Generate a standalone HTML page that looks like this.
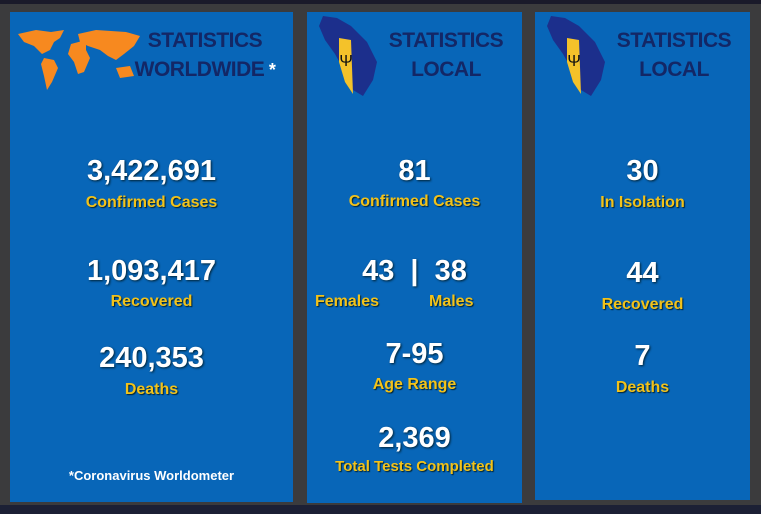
<!DOCTYPE html>
<html><head><style>
body{margin:0;width:761px;height:514px;background:#3b3b3d;position:relative;overflow:hidden;font-family:"Liberation Sans",sans-serif}
.top{position:absolute;left:0;top:0;width:761px;height:4px;background:#1a1a2a}
.bot{position:absolute;left:0;top:505px;width:761px;height:9px;background:#1c2035}
.p{position:absolute;background:#0866b8}
.t{position:absolute;width:100%;text-align:center;font-weight:bold}
.n{color:#fff;font-size:29px;text-shadow:1px 1px 2px #023}
.l{color:#f2c21a;font-size:16px;text-shadow:1px 1px 1px #023}
.h{position:absolute;color:#132766;font-weight:bold;font-size:21px;text-align:center;line-height:29px;letter-spacing:-0.5px}
</style></head><body>
<div class="top"></div><div class="bot"></div>
<div class="p" style="left:10px;top:12px;width:283px;height:490px">
<svg style="position:absolute;left:6px;top:12px" width="126" height="70" viewBox="0 0 126 70">
<g fill="#f7891f"><path d="M2,10 L20,6 L35,8 L48,6 L44,14 L38,18 L34,26 L26,30 L18,22 L8,18Z"/><path d="M28,34 L38,36 L42,44 L36,58 L31,66 L28,52 L25,40Z"/><path d="M55,20 L70,16 L70,26 L74,34 L68,48 L62,50 L58,38 L52,30Z"/><path d="M62,10 L80,6 L110,8 L124,12 L118,22 L108,30 L100,36 L92,32 L84,26 L72,22 L64,18Z"/><path d="M100,44 L114,42 L118,52 L104,54Z"/></g></svg>
<div class="h" style="left:120px;top:14px;width:150px">STATISTICS<br>WORLDWIDE<span style="color:#fff;font-size:18px"> *</span></div>
<div class="t n" style="top:143px">3,422,691</div><div class="t l" style="top:182px">Confirmed Cases</div>
<div class="t n" style="top:243px">1,093,417</div><div class="t l" style="top:281px">Recovered</div>
<div class="t n" style="top:330px">240,353</div><div class="t l" style="top:369px">Deaths</div>
<div class="t" style="top:456px;color:#fff;font-size:13px">*Coronavirus Worldometer</div>
</div>
<div class="p" style="left:307px;top:12px;width:215px;height:491px">
<svg style="position:absolute;left:10px;top:2px" width="62" height="84" viewBox="0 0 62 84"><path d="M6,2 L20,4 L34,12 L50,28 L60,48 L56,66 L46,82 L36,76 L28,58 L18,40 L8,26 L2,12Z" fill="#1c2f8c"/><path d="M22,24 L34,26 L36,80 L28,68 L22,48Z" fill="#f4c22a"/><text x="29" y="52" font-size="16" text-anchor="middle" fill="#111">Ψ</text></svg>
<div class="h" style="left:64px;top:14px;width:150px">STATISTICS<br>LOCAL</div>
<div class="t n" style="top:143px">81</div><div class="t l" style="top:181px">Confirmed Cases</div>
<div class="t n" style="top:243px">43 &nbsp;|&nbsp; 38</div>
<div class="l" style="position:absolute;left:8px;top:281px;font-weight:bold">Females</div>
<div class="l" style="position:absolute;left:122px;top:281px;font-weight:bold">Males</div>
<div class="t n" style="top:326px">7-95</div><div class="t l" style="top:364px">Age Range</div>
<div class="t n" style="top:410px">2,369</div><div class="t l" style="top:446px;font-size:15px">Total Tests Completed</div>
</div>
<div class="p" style="left:535px;top:12px;width:215px;height:488px">
<svg style="position:absolute;left:10px;top:2px" width="62" height="84" viewBox="0 0 62 84"><path d="M6,2 L20,4 L34,12 L50,28 L60,48 L56,66 L46,82 L36,76 L28,58 L18,40 L8,26 L2,12Z" fill="#1c2f8c"/><path d="M22,24 L34,26 L36,80 L28,68 L22,48Z" fill="#f4c22a"/><text x="29" y="52" font-size="16" text-anchor="middle" fill="#111">Ψ</text></svg>
<div class="h" style="left:64px;top:14px;width:150px">STATISTICS<br>LOCAL</div>
<div class="t n" style="top:143px">30</div><div class="t l" style="top:182px">In Isolation</div>
<div class="t n" style="top:245px">44</div><div class="t l" style="top:284px">Recovered</div>
<div class="t n" style="top:328px">7</div><div class="t l" style="top:367px">Deaths</div>
</div>
</body></html>
